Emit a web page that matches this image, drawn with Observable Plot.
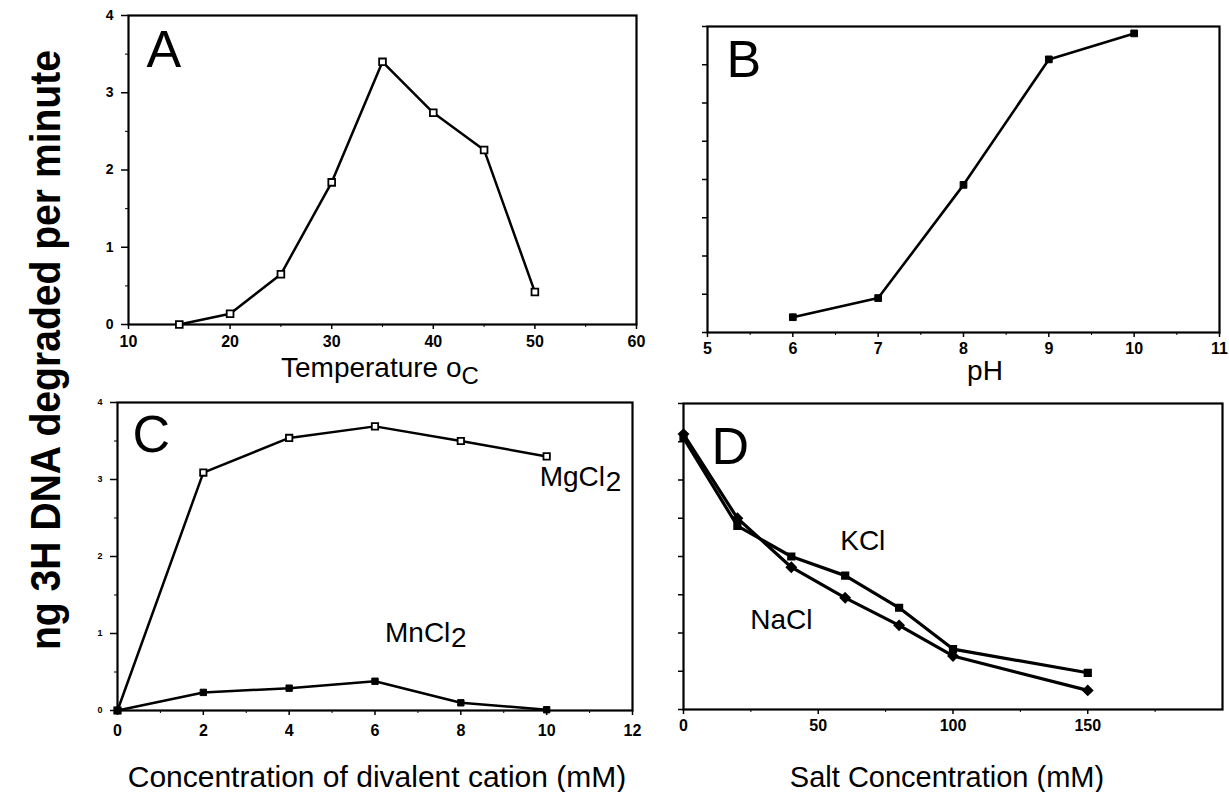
<!DOCTYPE html>
<html>
<head>
<meta charset="utf-8">
<script src="https://cdn.jsdelivr.net/npm/d3@7"></script>
<script src="https://cdn.jsdelivr.net/npm/@observablehq/plot@0.6"></script>
<style>
  html, body { margin: 0; padding: 0; background: #fff; }
  #root { position: relative; width: 1229px; height: 792px; overflow: hidden; background: #fff; }
  #root svg { position: absolute; }
</style>
</head>
<body>
<div id="root"></div>
<script>
// ---------- data ----------
const tempC = [15, 20, 25, 30, 35, 40, 45, 50];
const tempRate = [0.0, 0.14, 0.65, 1.84, 3.40, 2.74, 2.26, 0.42];

const pHValue = [6, 7, 8, 9, 10];
const pHRate = [0.20, 0.45, 1.93, 3.57, 3.91];

const cationMM = [0, 2, 4, 6, 8, 10];
const mgcl2Rate = [0, 3.09, 3.54, 3.69, 3.50, 3.30];
const mncl2Rate = [0, 0.235, 0.29, 0.38, 0.10, 0.01];

const saltMM = [0, 20, 40, 60, 80, 100, 150];
const kclRate = [3.55, 2.40, 2.00, 1.75, 1.33, 0.79, 0.48];
const naclRate = [3.60, 2.50, 1.86, 1.46, 1.10, 0.70, 0.25];

// tick values
const rateTicks = [0, 1, 2, 3, 4];
const rateHalfTicks = [0.5, 1.5, 2.5, 3.5];
const rateAllTicks = [0, 0.5, 1, 1.5, 2, 2.5, 3, 3.5, 4];
const tempTicks = [10, 20, 30, 40, 50, 60];
const tempMinorTicks = [15, 25, 35, 45, 55];
const pHTicks = [5, 6, 7, 8, 9, 10, 11];
const pHMinorTicks = [5.5, 6.5, 7.5, 8.5, 9.5, 10.5];
const cationTicks = [0, 2, 4, 6, 8, 10, 12];
const cationMinorTicks = [1, 3, 5, 7, 9, 11];
const saltTicks = [0, 50, 100, 150];
const saltMinorTicks = [25, 75, 125, 175];

const yTitle = "ng 3H DNA degraded per minute";

// ---------- helpers ----------
const zip = (xs, ys) => xs.map((x, i) => ({x, y: ys[i]}));
const FONT = "'Liberation Sans', Arial, Helvetica, sans-serif";
const blank = () => "";
const intFmt = d => String(d);

function panel({left, top, width, height, margins, xDomain, yDomain, marks}) {
  const p = Plot.plot({
    width, height,
    marginLeft: margins[0], marginRight: margins[1], marginTop: margins[2], marginBottom: margins[3],
    x: {domain: xDomain},
    y: {domain: yDomain},
    style: {fontFamily: FONT, color: "black", background: "transparent", overflow: "visible"},
    marks
  });
  p.style.left = left + "px";
  p.style.top = top + "px";
  document.getElementById("root").appendChild(p);
  return p;
}

function letter(ch, dx, dy) {
  return Plot.text([ch], {text: d => d, frameAnchor: "top-left", textAnchor: "start", lineAnchor: "top",
    dx, dy, fontSize: 52, fill: "black", fontFamily: FONT});
}

// ---------- Panel A ----------
const dataA = zip(tempC, tempRate);
panel({
  left: 60, top: 0, width: 600, height: 392, margins: [68, 24, 15, 68],
  xDomain: [10, 60], yDomain: [0, 4],
  marks: [
    Plot.frame({stroke: "black", strokeWidth: 2.2}),
    Plot.axisY({ticks: rateTicks, tickFormat: intFmt, tickSize: 7, tickPadding: 8, fontSize: 14, fontWeight: "bold", label: null, strokeWidth: 1.5}),
    Plot.axisY({ticks: rateHalfTicks, tickSize: 3, tickFormat: blank, label: null}),
    Plot.axisX({ticks: tempTicks, tickFormat: intFmt, tickSize: 5, tickPadding: 6, fontSize: 16, fontWeight: "bold", label: null, strokeWidth: 1.5}),
    Plot.axisX({ticks: tempMinorTicks, tickSize: 3, tickFormat: blank, label: null}),
    Plot.line(dataA, {x: "x", y: "y", stroke: "black", strokeWidth: 2.5}),
    Plot.dot(dataA, {x: "x", y: "y", symbol: "square", r: 3.8, fill: "white", stroke: "black", strokeWidth: 1.8}),
    letter("A", 18, 15)
  ]
});

// ---------- Panel B ----------
const dataB = zip(pHValue, pHRate);
panel({
  left: 660, top: 0, width: 569, height: 392, margins: [47, 10, 26, 60],
  xDomain: [5, 11], yDomain: [0, 4],
  marks: [
    Plot.frame({stroke: "black", strokeWidth: 2.2}),
    Plot.axisY({ticks: rateAllTicks, tickSize: 5, tickFormat: blank, label: null, strokeWidth: 1.5}),
    Plot.axisX({ticks: pHTicks, tickFormat: intFmt, tickSize: 5, tickPadding: 5, fontSize: 16, fontWeight: "bold", label: null, strokeWidth: 1.5}),
    Plot.axisX({ticks: pHMinorTicks, tickSize: 3, tickFormat: blank, label: null}),
    Plot.line(dataB, {x: "x", y: "y", stroke: "black", strokeWidth: 2.6}),
    Plot.dot(dataB, {x: "x", y: "y", symbol: "square", r: 3.8, fill: "black", stroke: "black", strokeWidth: 1}),
    letter("B", 19, 14)
  ]
});

// ---------- Panel C ----------
const dataMg = zip(cationMM, mgcl2Rate);
const dataMn = zip(cationMM, mncl2Rate);
panel({
  left: 60, top: 392, width: 600, height: 400, margins: [57, 28, 10, 82],
  xDomain: [0, 12], yDomain: [0, 4],
  marks: [
    Plot.frame({stroke: "black", strokeWidth: 2.2}),
    Plot.axisY({ticks: rateTicks, tickFormat: intFmt, tickSize: 7, tickPadding: 8, fontSize: 9, fontWeight: "bold", label: null, strokeWidth: 1.5}),
    Plot.axisY({ticks: rateHalfTicks, tickSize: 3, tickFormat: blank, label: null}),
    Plot.axisX({ticks: cationTicks, tickFormat: intFmt, tickSize: 5, tickPadding: 9, fontSize: 16, fontWeight: "bold", label: null, strokeWidth: 1.5}),
    Plot.axisX({ticks: cationMinorTicks, tickSize: 3, tickFormat: blank, label: null}),
    Plot.line(dataMg, {x: "x", y: "y", stroke: "black", strokeWidth: 2.5}),
    Plot.line(dataMn, {x: "x", y: "y", stroke: "black", strokeWidth: 2.5}),
    Plot.dot(dataMg, {x: "x", y: "y", symbol: "square", r: 3.6, fill: "white", stroke: "black", strokeWidth: 1.8}),
    Plot.dot(dataMn, {x: "x", y: "y", symbol: "square", r: 3.6, fill: "black", stroke: "black", strokeWidth: 1}),
    Plot.text(dataMg, Plot.selectLast({x: "x", y: "y", text: () => "MgCl", textAnchor: "start", dx: -7, dy: 21, fontSize: 28, fontFamily: FONT})),
    Plot.text(dataMg, Plot.selectLast({x: "x", y: "y", text: () => "2", textAnchor: "start", dx: 59, dy: 26, fontSize: 28, fontFamily: FONT})),
    Plot.text(dataMn, Plot.selectMaxY({x: "x", y: "y", text: () => "MnCl", textAnchor: "start", dx: 10, dy: -48, fontSize: 28, fontFamily: FONT})),
    Plot.text(dataMn, Plot.selectMaxY({x: "x", y: "y", text: () => "2", textAnchor: "start", dx: 76, dy: -43, fontSize: 28, fontFamily: FONT})),
    letter("C", 15, 13)
  ]
});

// ---------- Panel D ----------
const dataK = zip(saltMM, kclRate);
const dataNa = zip(saltMM, naclRate);
panel({
  left: 660, top: 392, width: 569, height: 400, margins: [23, 7, 11, 83],
  xDomain: [0, 200], yDomain: [0, 4],
  marks: [
    Plot.frame({stroke: "black", strokeWidth: 2.2}),
    Plot.axisY({ticks: rateAllTicks, tickSize: 5, tickFormat: blank, label: null, strokeWidth: 1.5}),
    Plot.axisX({ticks: saltTicks, tickFormat: intFmt, tickSize: 5, tickPadding: 5, fontSize: 16, fontWeight: "bold", label: null, strokeWidth: 1.5}),
    Plot.axisX({ticks: saltMinorTicks, tickSize: 3, tickFormat: blank, label: null}),
    Plot.line(dataK, {x: "x", y: "y", stroke: "black", strokeWidth: 3.2}),
    Plot.line(dataNa, {x: "x", y: "y", stroke: "black", strokeWidth: 3.2}),
    Plot.dot(dataK, {x: "x", y: "y", symbol: "square", r: 3.8, fill: "black", stroke: "black"}),
    Plot.dot(dataNa, {x: "x", y: "y", symbol: "diamond2", r: 4.4, fill: "black", stroke: "black"}),
    Plot.text(dataK.filter(d => d.x === 60), {x: "x", y: "y", text: () => "KCl", textAnchor: "start", dx: -5, dy: -35, fontSize: 28, fontFamily: FONT}),
    Plot.text(dataNa.filter(d => d.x === 40), {x: "x", y: "y", text: () => "NaCl", textAnchor: "start", dx: -41, dy: 53, fontSize: 28, fontFamily: FONT}),
    letter("D", 28, 24)
  ]
});

// ---------- overlay titles ----------
const NS = "http://www.w3.org/2000/svg";
const ov = d3.select("#root").append("svg")
  .attr("xmlns", NS)
  .attr("width", 1229).attr("height", 792)
  .style("left", "0px").style("top", "0px").style("pointer-events", "none")
  .style("font-family", FONT);

ov.append("text")
  .attr("transform", "translate(45,350) rotate(-90)")
  .attr("text-anchor", "middle")
  .attr("dominant-baseline", "central")
  .attr("font-family", "'Liberation Sans Narrow', 'Liberation Sans', Arial, sans-serif")
  .attr("font-weight", "bold")
  .attr("font-size", 42)
  .attr("textLength", 600)
  .attr("lengthAdjust", "spacingAndGlyphs")
  .text(yTitle);

const tA = ov.append("text").attr("x", 281).attr("y", 377).attr("font-size", 28);
tA.append("tspan").text("Temperature  o");
tA.append("tspan").attr("dy", 7).attr("font-size", 24).text("C");

ov.append("text").attr("x", 985).attr("y", 380).attr("text-anchor", "middle").attr("font-size", 28).text("pH");

ov.append("text").attr("x", 377).attr("y", 787).attr("text-anchor", "middle").attr("font-size", 30)
  .text("Concentration of divalent cation (mM)");

ov.append("text").attr("x", 947).attr("y", 787).attr("text-anchor", "middle").attr("font-size", 29)
  .text("Salt Concentration (mM)");
</script>
</body>
</html>
